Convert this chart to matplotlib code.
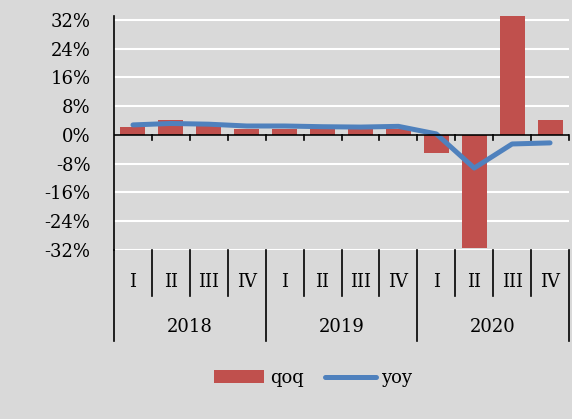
import numpy as np
import matplotlib.pyplot as plt
from matplotlib.ticker import FuncFormatter

quarters = ['I', 'II', 'III', 'IV'] * 3
years = ['2018', '2019', '2020']
qoq = [2.2, 4.1, 3.0, 1.8, 1.8, 1.8, 1.8, 1.6, -5.1, -31.4, 33.0, 4.3]
yoy = [2.8, 3.2, 3.0, 2.5, 2.5, 2.3, 2.2, 2.4, 0.3, -9.2, -2.5, -2.2]
yticks = [-32, -24, -16, -8, 0, 8, 16, 24, 32]

bg = '#d9d9d9'
plt.rcParams['font.family'] = ['DejaVu Serif']

fig = plt.figure(figsize=(5.72, 4.19), dpi=100, facecolor=bg)
ax = fig.add_axes([114 / 572, 169 / 419, 455 / 572, 234 / 419], facecolor=bg)

x = np.arange(len(qoq))
ax.set_xlim(-0.5, len(qoq) - 0.5)
ax.set_ylim(-32, 33.1)

# gridlines
ax.set_yticks(yticks)
ax.yaxis.grid(True, color='white', linewidth=1.5)
ax.set_axisbelow(True)

bars = ax.bar(x, qoq, width=0.66, color='#c0504d', label='qoq', zorder=2)
line, = ax.plot(x, yoy, color='#4f81bd', linewidth=3.6, solid_capstyle='round', label='yoy', zorder=3)

for s in ['top', 'right', 'bottom']:
    ax.spines[s].set_visible(False)
ax.spines['left'].set_linewidth(1.2)
ax.axhline(0, color='black', linewidth=1.2, zorder=4)

ax.yaxis.set_major_formatter(FuncFormatter(lambda v, p: '%d%%' % v))
ax.tick_params(axis='y', length=0, pad=17, labelsize=13)
ax.set_xticks([])

trans = ax.get_xaxis_transform()
bounds = np.arange(len(qoq) + 1) - 0.5
zero_ax = 32 / 65.1
for b in bounds[1:]:
    ax.plot([b, b], [zero_ax, zero_ax - 0.022], transform=trans, color='black', lw=1.2, clip_on=False)

# category axis labels below the plot
for i, b in enumerate(bounds):
    low = -0.389 if i % 4 == 0 else -0.197
    ax.plot([b, b], [0, low], transform=trans, color='black', lw=1.2, clip_on=False)
for i, q in enumerate(quarters):
    ax.text(i, -0.137, q, transform=trans, ha='center', va='center', fontsize=13)
for j, yr in enumerate(years):
    ax.text(4 * j + 1.5, -0.329, yr, transform=trans, ha='center', va='center', fontsize=13)

fig.legend([bars, line], ['qoq', 'yoy'], loc='center', bbox_to_anchor=(313 / 572, 1 - 378 / 419),
           ncol=2, frameon=False, fontsize=13, handlelength=2.8, handletextpad=0.3, columnspacing=1.2)

fig.savefig('out.png', dpi=100, facecolor=bg)
